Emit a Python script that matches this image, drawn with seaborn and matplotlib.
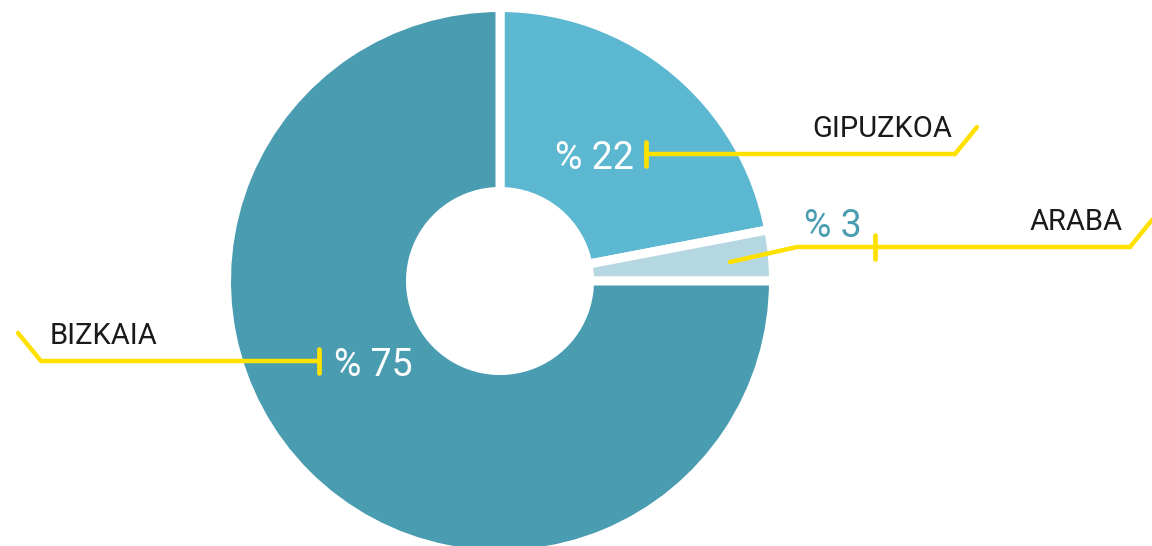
import matplotlib
matplotlib.use("Agg")
import matplotlib.pyplot as plt
import seaborn as sns

# Share of the total by province (percent)
provinces = ["GIPUZKOA", "ARABA", "BIZKAIA"]
shares = [22, 3, 75]
share_labels = ["% 22", "% 3", "% 75"]

sns.set_theme(style="white")
plt.rcParams["font.family"] = ["Roboto", "DejaVu Sans"]

colors = ["#5cb8d1", "#b5d7e1", "#4a9db1"]
value_colors = ["white", "#4a9db1", "white"]
yellow = "#ffe100"

W, H = 1152, 546
fig = plt.figure(figsize=(W / 100, H / 100), dpi=100)
ax = fig.add_axes([0, 0, 1, 1])


def py(y):
    """Top-down pixel row -> axis y."""
    return H - y


cx, cy = 500, py(281)
ax.pie(shares, colors=colors, startangle=90, counterclock=False,
       center=(cx, cy), radius=273.5,
       wedgeprops=dict(width=184, edgecolor="white", linewidth=6.5))

# Leader lines: polyline points and tick position for each province
leaders = {
    "GIPUZKOA": dict(path=[(646, 154), (955, 154), (977, 127)], tick=(646, 154),
                     name_xy=(952, 137), name_ha="right",
                     val_xy=(634, 169), val_ha="right"),
    "ARABA": dict(path=[(730, 262), (797, 247), (1130, 247), (1152, 220)], tick=(875, 247),
                  name_xy=(1123, 229.5), name_ha="right",
                  val_xy=(804, 237), val_ha="left"),
    "BIZKAIA": dict(path=[(319, 361), (41, 361), (18, 333)], tick=(319, 361),
                    name_xy=(50, 344), name_ha="left",
                    val_xy=(334, 376), val_ha="left"),
}

for name, lab, vcol in zip(provinces, share_labels, value_colors):
    spec = leaders[name]
    xs = [p[0] for p in spec["path"]]
    ys = [py(p[1]) for p in spec["path"]]
    ax.plot(xs, ys, color=yellow, lw=3.2, solid_capstyle="round",
            solid_joinstyle="miter", zorder=5)
    tx, ty = spec["tick"]
    ax.plot([tx, tx], [py(ty - 12), py(ty + 12)], color=yellow, lw=3.4,
            solid_capstyle="round", zorder=5)
    nx, ny = spec["name_xy"]
    ax.text(nx, py(ny), name, ha=spec["name_ha"], va="baseline",
            fontsize=21, fontweight="normal", color="#1a1a1a", zorder=6)
    vx, vy = spec["val_xy"]
    ax.text(vx, py(vy), lab, ha=spec["val_ha"], va="baseline",
            fontsize=27, fontweight="normal", color=vcol, zorder=6)

ax.set_xlim(0, W)
ax.set_ylim(0, H)
ax.set_aspect("equal")
ax.axis("off")

fig.savefig("out.png", dpi=100, facecolor="white")
